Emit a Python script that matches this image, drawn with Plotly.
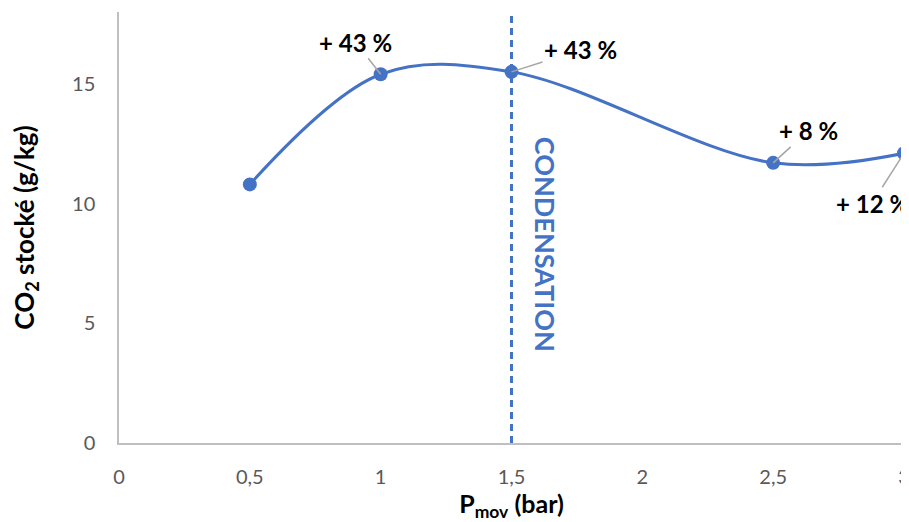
import plotly.graph_objects as go

pressure = [0.5, 1, 1.5, 2.5, 3]
co2 = [10.8, 15.4, 15.5, 11.7, 12.1]
labels = ["", "+ 43 %", "+ 43 %", "+ 8 %", "+ 12 %"]
x_ticks = [0, 0.5, 1, 1.5, 2, 2.5, 3]
y_ticks = [0, 5, 10, 15]
condensation_x = 1.5

BLUE = "#4472C4"
FONT = "Lato"

fig = go.Figure()
fig.add_trace(go.Scatter(
    x=pressure, y=co2, mode="lines+markers",
    line=dict(color=BLUE, width=3, shape="spline", smoothing=1.0),
    marker=dict(color=BLUE, size=14),
    hoverinfo="skip", showlegend=False, cliponaxis=False,
))

fig.add_shape(type="line", xref="x", yref="y",
              x0=condensation_x, x1=condensation_x, y0=0, y1=18,
              line=dict(color=BLUE, width=3, dash="7px,5px"))

offsets = {1: (-25, -32), 2: (69, -22), 3: (35, -32), 4: (-32, 50)}
for i, (dx, dy) in offsets.items():
    fig.add_annotation(x=pressure[i], y=co2[i], text="<b>%s</b>" % labels[i],
                       showarrow=True, arrowhead=0, arrowwidth=1.5,
                       arrowcolor="#a6a6a6", ax=dx, ay=dy, standoff=0,
                       font=dict(family=FONT, size=24, color="black"))

fig.add_annotation(x=condensation_x, y=8.3, text="<b>CONDENSATION</b>",
                   textangle=90, showarrow=False, xshift=34,
                   font=dict(family=FONT, size=27, color=BLUE))

# the page body has an 8px margin: shift the figure so the plot area matches
fig.update_layout(
    width=901, height=514,
    margin=dict(l=111, r=5, t=4, b=79),
    plot_bgcolor="white", paper_bgcolor="white",
    separators=", ",
    font=dict(family=FONT, color="#595959", size=20),
    xaxis=dict(range=[0, 3], tickvals=x_ticks, showgrid=False, zeroline=False,
               showline=True, linecolor="#bfbfbf", linewidth=1.5,
               ticks="", ticklabelstandoff=15, automargin=False,
               ticklabeloverflow="allow",
               title=dict(text="<b>P<sub>mov</sub> (bar)</b>",
                          font=dict(family=FONT, size=25, color="black"), standoff=12)),
    yaxis=dict(range=[0, 18], tickvals=y_ticks, showgrid=False, zeroline=False,
               showline=True, linecolor="#bfbfbf", linewidth=1.5,
               ticks="", ticklabelstandoff=18, automargin=False,
               title=dict(text="<b>CO<sub>2</sub> stocké (g/kg)</b>",
                          font=dict(family=FONT, size=26, color="black"), standoff=36)),
)

fig.write_html("out.html")
